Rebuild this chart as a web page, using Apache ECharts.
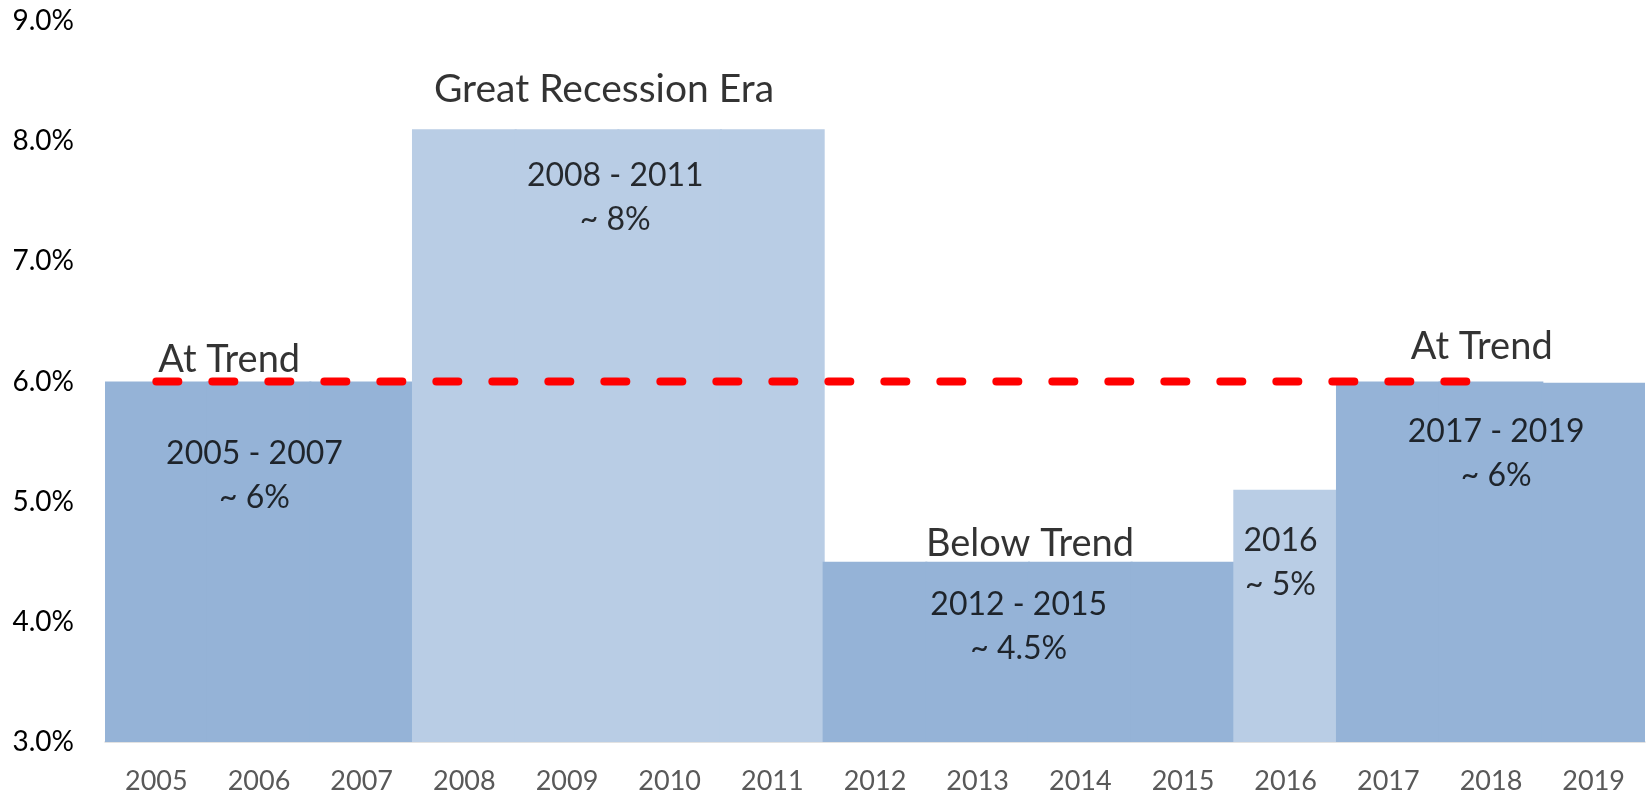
<!DOCTYPE html>
<html>
<head>
<meta charset="utf-8">
<script src="https://cdn.jsdelivr.net/npm/echarts@6/dist/echarts.min.js"></script>
<style>
  html, body { margin: 0; padding: 0; background: #fff; }
  #chart { width: 1647px; height: 797px; }
</style>
</head>
<body>
<div id="chart"></div>
<script>
  const years = ['2005', '2006', '2007', '2008', '2009', '2010', '2011', '2012',
    '2013', '2014', '2015', '2016', '2017', '2018', '2019']
  const growth = [6.0, 6.0, 6.0, 8.1, 8.1, 8.1, 8.1, 4.5, 4.5, 4.5, 4.5, 5.1, 6.0, 6.0, 5.99]
  // which era each year belongs to: true = light bars
  const lightEra = [false, false, false, true, true, true, true, false, false, false, false, true, false, false, false]
  const trend = [6, 6, 6, 6, 6, 6, 6, 6, 6, 6, 6, 6, 6, 6, null]
  const yTicks = [3, 4, 5, 6, 7, 8, 9]

  const DARK = '#95b3d7'
  const LIGHT = '#b9cde5'
  const FONT = 'Lato'

  const chart = echarts.init(document.getElementById('chart'))

  // text placed on a hidden value axis running 0..15 across the categories
  function note(x, y, text, size) {
    return {
      value: [x, y],
      label: {
        show: true,
        position: 'inside',
        formatter: text,
        fontSize: size,
        lineHeight: 44,
        fontFamily: FONT,
        color: '#000',
        align: 'center',
        verticalAlign: 'middle',
      },
    }
  }

  const option = {
    animation: false,
    grid: { left: 105, right: 2, top: 21, bottom: 55, containLabel: false },
    xAxis: [
      {
        type: 'category',
        data: years,
        axisLine: { lineStyle: { color: '#d9d9d9', width: 1.5 } },
        axisTick: { length: 10, lineStyle: { color: '#d9d9d9', width: 1.5 } },
        axisLabel: { color: '#595959', fontSize: 27, fontFamily: FONT, margin: 26 },
      },
      { type: 'value', min: 0, max: 15, show: false },
    ],
    yAxis: {
      type: 'value',
      min: yTicks[0],
      max: yTicks[yTicks.length - 1],
      interval: 1,
      axisLine: { show: false },
      axisTick: { show: false },
      splitLine: { show: false },
      axisLabel: {
        color: '#000',
        fontSize: 28,
        fontFamily: FONT,
        margin: 31,
        formatter: (v) => v.toFixed(1) + '%',
      },
    },
    series: [
      {
        type: 'bar',
        barWidth: '102%',
        data: growth.map((v, i) => ({ value: v, itemStyle: { color: lightEra[i] ? LIGHT : DARK } })),
        z: 1,
      },
      {
        type: 'line',
        data: trend,
        symbol: 'none',
        lineStyle: { color: '#ff0000', width: 8, type: [22, 34], cap: 'round' },
        z: 3,
      },
      {
        type: 'scatter',
        xAxisIndex: 1,
        symbolSize: 0,
        z: 5,
        data: [
          note(4.86, 8.43, 'Great Recession Era', 39),
          note(4.97, 7.53, '2008 - 2011\n~ 8%', 32),
          note(1.21, 6.18, 'At Trend', 38),
          note(13.41, 6.29, 'At Trend', 38),
          note(1.456, 5.22, '2005 - 2007\n~ 6%', 32),
          note(9.01, 4.65, 'Below Trend', 38),
          note(8.9, 3.957, '2012 - 2015\n~ 4.5%', 32),
          note(11.45, 4.49, '2016\n~ 5%', 32),
          note(13.55, 5.4, '2017 - 2019\n~ 6%', 32),
        ],
      },
    ],
  }

  chart.setOption(option)
</script>
</body>
</html>
